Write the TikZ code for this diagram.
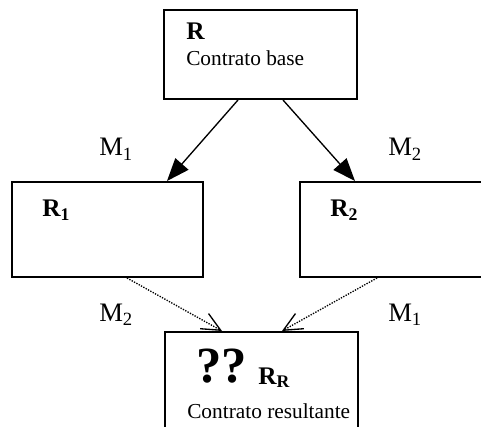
\documentclass[tikz,border=0pt]{standalone}
\usepackage{fontspec}
\setmainfont{Liberation Serif}
\usetikzlibrary{arrows.meta,calc}

\begin{document}
\begin{tikzpicture}[x=0.75pt,y=-0.75pt,
		caja/.style={draw,line width=1.5pt,inner sep=0pt},
		texto/.style={inner sep=0pt,anchor=base west,font=\fontsize{16}{18}\selectfont},
		etiqueta/.style={inner sep=0pt,anchor=base west,font=\fontsize{20}{22}\selectfont},
		nombre/.style={inner sep=0pt,anchor=base west,font=\fontsize{19}{22}\selectfont\bfseries},
		flecha/.style={line width=1pt,-{Triangle[length=17pt,width=13pt]}},
		punteada/.style={line width=1pt,dash pattern=on 1pt off 1pt,-{Straight Barb[length=14pt,width=13pt,line width=1pt]}}]
		\useasboundingbox (0,0) rectangle (481,427);
		% cajas
		\node[caja,minimum width=144.75pt,minimum height=66.75pt] (base) at (260.5,54.5) {};
		\node[caja,minimum width=143.25pt,minimum height=71.25pt] (r1) at (107.5,229.5) {};
		\node[caja,minimum width=143.25pt,minimum height=71.25pt] (r2) at (395.5,229.5) {};
		\node[caja,minimum width=144.75pt,minimum height=82.5pt] (rr) at (261.5,387) {};
		% textos
		\node[nombre] (tr) at (186,40) {R};
		\node[texto] (tbase) at (186,66) {Contrato base};
		\node[nombre] (tr1) at (42,217) {R\textsubscript{1}};
		\node[nombre] (tr2) at (330,217) {R\textsubscript{2}};
		\node[inner sep=0pt,anchor=base west,font=\fontsize{38}{40}\selectfont\bfseries] (dudas) at (196,382) {??};
		\node[nombre] (trr) at (258,384) {R\textsubscript{R}};
		\node[texto] (tres) at (187,418) {Contrato resultante};
		% modificaciones
		\node[etiqueta] (m1a) at (99,156) {M\textsubscript{1}};
		\node[etiqueta] (m2a) at (388,156) {M\textsubscript{2}};
		\node[etiqueta] (m2b) at (99,321) {M\textsubscript{2}};
		\node[etiqueta] (m1b) at (388,321) {M\textsubscript{1}};
		% flechas
		\draw[flecha] ($(base.south)+(-22.5,0)$) -- ($(r1.north)+(59.5,0)$);
		\draw[flecha] ($(base.south)+(22.5,0)$) -- ($(r2.north)+(-40.5,0)$);
		\draw[punteada] ($(r1.south)+(19.5,0)$) -- ($(rr.north)+(-39.5,0)$);
		\draw[punteada] ($(r2.south)+(-18.5,0)$) -- ($(rr.north)+(20.5,0)$);
\end{tikzpicture}
\end{document}
